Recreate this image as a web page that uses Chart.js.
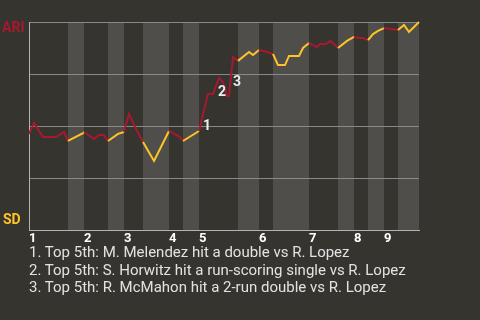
<!DOCTYPE html>
<html><head><meta charset="utf-8">
<script src="https://cdn.jsdelivr.net/npm/chart.js@4/dist/chart.umd.min.js"></script>
<style>
html,body{margin:0;padding:0;background:#36342f;}
#wrap{position:relative;width:480px;height:320px;overflow:hidden;background:#36342f;}
canvas{position:absolute;left:0;top:0;}
#notes{position:absolute;left:29px;top:244px;font:15px Roboto, sans-serif;line-height:17.7px;color:#e2e2e2;white-space:nowrap;}
</style></head><body>
<div id="wrap"><canvas id="c" width="480" height="320"></canvas><div id="notes"></div></div>
<script>
// ---- data ----
const innings = ['1','2','3','4','5','6','7','8','9'];
const inningStarts = [0,55,95,140,170,230,280,325,355];
// start of each half-inning (top 1, bottom 1, top 2, ...) and end of game, in plays
const halfStarts = [0,39,55,79,95,114,140,154,170,209,230,244,280,309,325,339,355,369,390];
const playX = [0,5,14,27,35,39,54,55,65,70,75,79,89,95,100,106,114,125,140,151,154,170,179,184,190,194,198,200,204,209,220,224,230,238,244,249,256,260,270,274,280,284,288,291,297,301,305,309,318,325,331,334,339,344,349,355,369,375,380,390];
const winProbARI = [46.2,51.4,44.7,44.7,47.1,42.8,46.6,47.1,43.8,45.7,45.7,42.8,46.2,47.1,55.8,49.5,42.3,33.2,47.6,44.7,42.8,47.6,65.4,65.4,73.1,71.2,64.4,64.4,83.2,81.3,85.6,84.1,86.5,85.6,84.6,79.3,79.3,83.7,83.7,87.5,89.9,88.9,88.0,89.4,89.4,90.9,89.4,87.5,90.9,92.8,92.3,92.3,91.3,94.2,95.7,97.1,96.2,98.6,95.2,100];
const eventLabels = ['1','2','3'];
const eventX = [178,193,208];
const eventY = [50.0,66.3,70.7];
const teams = ['ARI','SD'];
const notes = [
  '1. Top 5th: M. Melendez hit a double vs R. Lopez',
  '2. Top 5th: S. Horwitz hit a run-scoring single vs R. Lopez',
  '3. Top 5th: R. McMahon hit a 2-run double vs R. Lopez'
];

// ---- styles ----
const BG = '#36342f', BAND = '#4f4e4b', RED = '#a6192e', GOLD = '#ffc425';

document.getElementById('notes').innerHTML = notes.map(n => '<div>' + n + '</div>').join('');

function halfIndex(x){
  let i = 0;
  while (i < halfStarts.length - 2 && x >= halfStarts[i+1]) i++;
  return i;
}

const decor = {
  id: 'decor',
  beforeDraw(chart){
    const {ctx, chartArea: a, scales: {x}} = chart;
    ctx.save();
    ctx.fillStyle = BG;
    ctx.fillRect(0, 0, chart.width, chart.height);
    ctx.fillStyle = BAND;
    for (let i = 1; i < halfStarts.length - 1; i += 2) {
      const x0 = Math.round(x.getPixelForValue(halfStarts[i]));
      const x1 = Math.round(x.getPixelForValue(halfStarts[i+1]));
      ctx.fillRect(x0, a.top, x1 - x0, a.bottom - a.top);
    }
    ctx.restore();
  },
  afterDatasetsDraw(chart){
    const {ctx, chartArea: a, scales: {x, y}} = chart;
    ctx.save();
    ctx.font = 'bold 14px Roboto, sans-serif';
    ctx.textAlign = 'center';
    ctx.textBaseline = 'middle';
    ctx.fillStyle = '#ececec';
    eventLabels.forEach((t, i) => ctx.fillText(t, x.getPixelForValue(eventX[i]), y.getPixelForValue(eventY[i])));
    ctx.textAlign = 'left';
    ctx.fillStyle = RED;
    ctx.fillText(teams[0], 2, a.top + 6);
    ctx.fillStyle = GOLD;
    ctx.fillText(teams[1], 3, a.bottom - 10);
    ctx.restore();
  }
};

new Chart(document.getElementById('c'), {
  type: 'line',
  data: {
    datasets: [{
      data: playX.map((v, i) => ({x: v, y: winProbARI[i]})),
      borderWidth: 2,
      pointRadius: 0,
      tension: 0,
      fill: false,
      clip: false,
      borderColor: RED,
      segment: {
        borderColor: c => (halfIndex((c.p0.parsed.x + c.p1.parsed.x) / 2) % 2) ? GOLD : RED
      }
    }]
  },
  options: {
    responsive: false,
    animation: false,
    devicePixelRatio: 1,
    layout: {padding: {left: 29, right: 61, top: 22, bottom: 70}},
    plugins: {legend: {display: false}, tooltip: {enabled: false}},
    scales: {
      x: {
        type: 'linear', min: 0, max: 390,
        grid: {display: false, drawTicks: false},
        border: {display: true, color: '#b3b3b3', width: 1},
        afterBuildTicks: s => { s.ticks = inningStarts.map(v => ({value: v})); },
        afterFit: s => { s.height = 20; },
        ticks: {
          autoSkip: false, maxRotation: 0, align: 'start', padding: 1,
          color: '#ffffff', font: {family: 'Roboto', size: 13, weight: 'bold'},
          callback: (v, i) => innings[i]
        }
      },
      y: {
        min: 0, max: 100,
        afterFit: s => { s.width = 0; },
        grid: {color: '#8a8987', lineWidth: 1, drawTicks: false},
        border: {display: true, color: '#b3b3b3', width: 1},
        ticks: {display: false, stepSize: 25}
      }
    }
  },
  plugins: [decor]
});
</script>
</body></html>
